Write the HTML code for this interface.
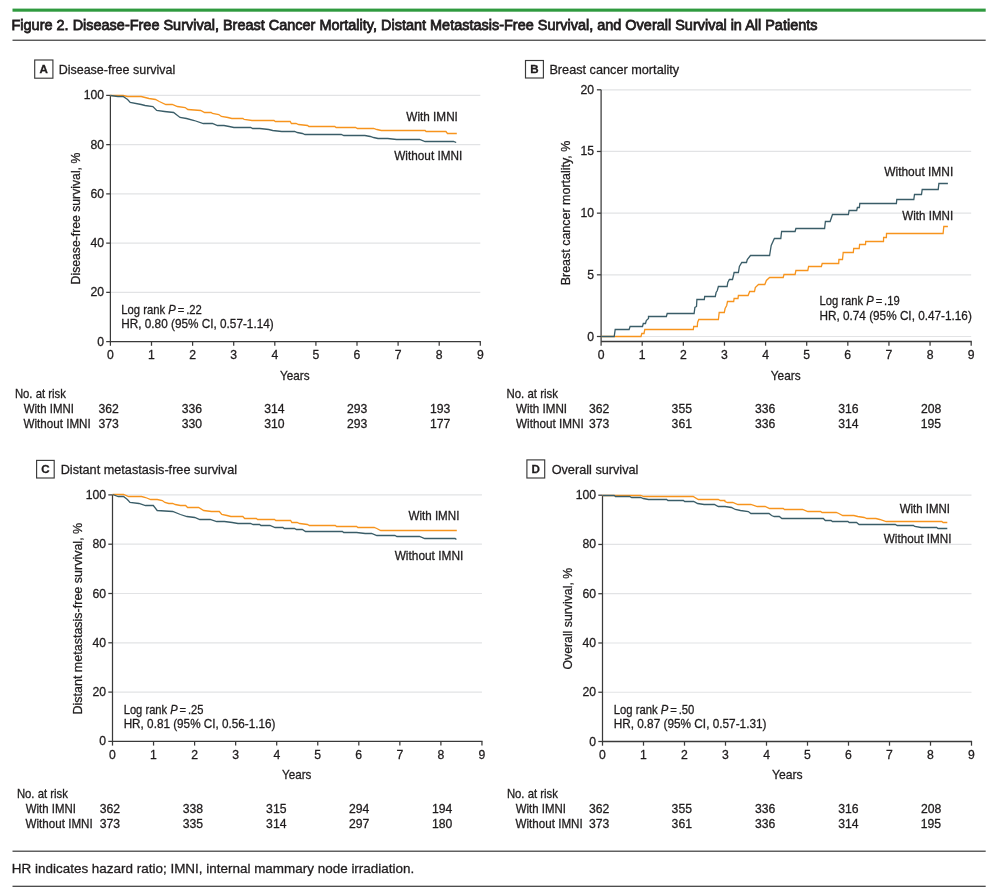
<!DOCTYPE html>
<html><head><meta charset="utf-8"><title>Figure 2</title>
<style>
html,body{margin:0;padding:0;background:#fff;}
body{width:1005px;height:892px;overflow:hidden;}
svg{display:block;font-family:"Liberation Sans",Arial,sans-serif;}
text{stroke:#1f1c1d;stroke-width:0.28px;}
text.ttl{stroke-width:0.8px;}
</style></head><body>
<svg width="1005" height="892" viewBox="0 0 1005 892">
<rect width="1005" height="892" fill="#fff"/>
<rect x="12.5" y="8.6" width="973.2" height="3.1" fill="#2f9a3f"/>
<rect x="12.5" y="39.6" width="973.2" height="1.3" fill="#4a4a4a"/>
<text x="11.54" y="29.70" font-size="15.2" textLength="805.96" lengthAdjust="spacingAndGlyphs" fill="#1f1c1d" class="ttl">Figure 2. Disease-Free Survival, Breast Cancer Mortality, Distant Metastasis-Free Survival, and Overall Survival in All Patients</text>
<line x1="110.40" y1="95.40" x2="480.30" y2="95.40" stroke="#e2e3e5" stroke-width="1.2"/>
<line x1="110.40" y1="144.64" x2="480.30" y2="144.64" stroke="#e2e3e5" stroke-width="1.2"/>
<line x1="110.40" y1="193.88" x2="480.30" y2="193.88" stroke="#e2e3e5" stroke-width="1.2"/>
<line x1="110.40" y1="243.12" x2="480.30" y2="243.12" stroke="#e2e3e5" stroke-width="1.2"/>
<line x1="110.40" y1="292.36" x2="480.30" y2="292.36" stroke="#e2e3e5" stroke-width="1.2"/>
<line x1="110.40" y1="95.40" x2="110.40" y2="345.80" stroke="#3a3a3a" stroke-width="1.25"/>
<line x1="106.20" y1="95.40" x2="110.40" y2="95.40" stroke="#3a3a3a" stroke-width="1.25"/>
<text x="83.71" y="99.40" font-size="12.2" fill="#1f1c1d">100</text>
<line x1="106.20" y1="144.64" x2="110.40" y2="144.64" stroke="#3a3a3a" stroke-width="1.25"/>
<text x="90.49" y="148.64" font-size="12.2" fill="#1f1c1d">80</text>
<line x1="106.20" y1="193.88" x2="110.40" y2="193.88" stroke="#3a3a3a" stroke-width="1.25"/>
<text x="90.49" y="197.88" font-size="12.2" fill="#1f1c1d">60</text>
<line x1="106.20" y1="243.12" x2="110.40" y2="243.12" stroke="#3a3a3a" stroke-width="1.25"/>
<text x="90.49" y="247.12" font-size="12.2" fill="#1f1c1d">40</text>
<line x1="106.20" y1="292.36" x2="110.40" y2="292.36" stroke="#3a3a3a" stroke-width="1.25"/>
<text x="90.49" y="296.36" font-size="12.2" fill="#1f1c1d">20</text>
<line x1="106.20" y1="341.60" x2="110.40" y2="341.60" stroke="#3a3a3a" stroke-width="1.25"/>
<text x="97.26" y="345.60" font-size="12.2" fill="#1f1c1d">0</text>
<line x1="110.40" y1="341.60" x2="480.90" y2="341.60" stroke="#3a3a3a" stroke-width="1.3"/>
<text x="106.98" y="358.80" font-size="12.2" fill="#1f1c1d">0</text>
<line x1="151.50" y1="341.60" x2="151.50" y2="345.80" stroke="#3a3a3a" stroke-width="1.25"/>
<text x="147.93" y="358.80" font-size="12.2" fill="#1f1c1d">1</text>
<line x1="192.60" y1="341.60" x2="192.60" y2="345.80" stroke="#3a3a3a" stroke-width="1.25"/>
<text x="189.21" y="358.80" font-size="12.2" fill="#1f1c1d">2</text>
<line x1="233.70" y1="341.60" x2="233.70" y2="345.80" stroke="#3a3a3a" stroke-width="1.25"/>
<text x="230.31" y="358.80" font-size="12.2" fill="#1f1c1d">3</text>
<line x1="274.80" y1="341.60" x2="274.80" y2="345.80" stroke="#3a3a3a" stroke-width="1.25"/>
<text x="271.48" y="358.80" font-size="12.2" fill="#1f1c1d">4</text>
<line x1="315.90" y1="341.60" x2="315.90" y2="345.80" stroke="#3a3a3a" stroke-width="1.25"/>
<text x="312.51" y="358.80" font-size="12.2" fill="#1f1c1d">5</text>
<line x1="357.00" y1="341.60" x2="357.00" y2="345.80" stroke="#3a3a3a" stroke-width="1.25"/>
<text x="353.55" y="358.80" font-size="12.2" fill="#1f1c1d">6</text>
<line x1="398.10" y1="341.60" x2="398.10" y2="345.80" stroke="#3a3a3a" stroke-width="1.25"/>
<text x="394.71" y="358.80" font-size="12.2" fill="#1f1c1d">7</text>
<line x1="439.20" y1="341.60" x2="439.20" y2="345.80" stroke="#3a3a3a" stroke-width="1.25"/>
<text x="435.78" y="358.80" font-size="12.2" fill="#1f1c1d">8</text>
<line x1="480.30" y1="341.60" x2="480.30" y2="345.80" stroke="#3a3a3a" stroke-width="1.25"/>
<text x="476.91" y="358.80" font-size="12.2" fill="#1f1c1d">9</text>
<text transform="translate(79.80 0) rotate(-90)" x="-284.38" y="0" font-size="13.1" textLength="131.62" lengthAdjust="spacingAndGlyphs" fill="#1f1c1d">Disease-free survival, %</text>
<text x="280.01" y="379.80" font-size="13.1" textLength="29.61" lengthAdjust="spacingAndGlyphs" fill="#1f1c1d">Years</text>
<polyline points="110.30,95.50 123.10,95.50 127.60,96.50 141.20,96.50 149.00,98.50 155.50,99.50 159.30,101.50 165.80,104.50 172.30,104.50 177.40,106.50 185.20,107.50 187.80,109.50 200.70,110.50 204.60,112.50 211.10,112.50 212.40,113.50 218.80,114.50 221.40,116.50 227.90,117.50 231.80,118.50 242.90,118.50 244.20,119.50 252.00,120.50 255.90,120.50 274.00,120.50 275.30,121.50 290.20,121.50 291.40,123.50 296.00,123.50 298.60,124.50 307.60,125.50 308.90,126.50 334.80,126.50 336.10,127.50 355.50,127.50 357.40,128.50 365.90,128.50 367.00,128.50 373.60,128.50 376.90,129.50 381.30,130.50 425.10,130.50 426.10,131.50 445.90,131.50 447.50,133.50 456.80,133.50" fill="none" stroke="#f7941d" stroke-width="1.3" stroke-linejoin="miter" stroke-linecap="butt"/>
<polyline points="110.30,95.50 117.90,96.50 123.10,96.50 127.60,99.50 130.20,102.50 141.20,104.50 145.10,105.50 152.90,106.50 156.70,110.50 164.50,111.50 173.60,112.50 180.00,117.50 186.50,118.50 194.30,120.50 203.30,123.50 212.40,123.50 217.50,125.50 224.00,125.50 229.20,126.50 233.90,127.50 250.70,127.50 252.60,128.50 259.80,128.50 268.80,129.50 272.70,130.50 281.70,131.50 283.00,131.50 294.70,131.50 297.30,132.50 302.40,133.50 305.00,134.50 341.30,134.50 343.80,135.50 354.20,135.50 356.80,135.50 364.90,135.50 370.30,136.50 373.60,137.50 378.00,138.50 387.80,138.50 396.60,139.50 419.60,139.50 425.10,141.50 453.50,141.50 456.20,142.50" fill="none" stroke="#3a5d68" stroke-width="1.3" stroke-linejoin="miter" stroke-linecap="butt"/>
<text x="121.30" y="313.80" font-size="12.2" textLength="80.55" lengthAdjust="spacingAndGlyphs" fill="#1f1c1d">Log rank <tspan font-style="italic">P</tspan> = .22</text>
<text x="121.26" y="327.60" font-size="12.2" textLength="152.46" lengthAdjust="spacingAndGlyphs" fill="#1f1c1d">HR, 0.80 (95% CI, 0.57-1.14)</text>
<text x="406.34" y="120.90" font-size="12.2" textLength="51.56" lengthAdjust="spacingAndGlyphs" fill="#1f1c1d">With IMNI</text>
<text x="394.24" y="159.60" font-size="12.2" textLength="68.06" lengthAdjust="spacingAndGlyphs" fill="#1f1c1d">Without IMNI</text>
<text x="14.89" y="397.70" font-size="12.2" textLength="51.02" lengthAdjust="spacingAndGlyphs" fill="#1f1c1d">No. at risk</text>
<text x="23.74" y="412.60" font-size="12.2" textLength="50.13" lengthAdjust="spacingAndGlyphs" fill="#1f1c1d">With IMNI</text>
<text x="23.54" y="427.60" font-size="12.2" textLength="67.15" lengthAdjust="spacingAndGlyphs" fill="#1f1c1d">Without IMNI</text>
<text x="98.41" y="412.60" font-size="12.2" fill="#1f1c1d">362</text>
<text x="98.41" y="427.60" font-size="12.2" fill="#1f1c1d">373</text>
<text x="181.71" y="412.60" font-size="12.2" fill="#1f1c1d">336</text>
<text x="181.71" y="427.60" font-size="12.2" fill="#1f1c1d">330</text>
<text x="264.21" y="412.60" font-size="12.2" fill="#1f1c1d">314</text>
<text x="264.21" y="427.60" font-size="12.2" fill="#1f1c1d">310</text>
<text x="346.99" y="412.60" font-size="12.2" fill="#1f1c1d">293</text>
<text x="346.99" y="427.60" font-size="12.2" fill="#1f1c1d">293</text>
<text x="429.98" y="412.60" font-size="12.2" fill="#1f1c1d">193</text>
<text x="429.98" y="427.60" font-size="12.2" fill="#1f1c1d">177</text>
<rect x="34.70" y="60.00" width="18.20" height="18.20" fill="none" stroke="#3a3a3a" stroke-width="1.15"/>
<text x="39.62" y="73.00" font-size="11.6" fill="#1f1c1d" font-weight="bold">A</text>
<text x="58.70" y="73.80" font-size="13.3" textLength="116.63" lengthAdjust="spacingAndGlyphs" fill="#1f1c1d">Disease-free survival</text>
<line x1="112.50" y1="494.90" x2="481.95" y2="494.90" stroke="#e2e3e5" stroke-width="1.2"/>
<line x1="112.50" y1="544.20" x2="481.95" y2="544.20" stroke="#e2e3e5" stroke-width="1.2"/>
<line x1="112.50" y1="593.50" x2="481.95" y2="593.50" stroke="#e2e3e5" stroke-width="1.2"/>
<line x1="112.50" y1="642.80" x2="481.95" y2="642.80" stroke="#e2e3e5" stroke-width="1.2"/>
<line x1="112.50" y1="692.10" x2="481.95" y2="692.10" stroke="#e2e3e5" stroke-width="1.2"/>
<line x1="112.50" y1="494.90" x2="112.50" y2="745.60" stroke="#3a3a3a" stroke-width="1.25"/>
<line x1="108.30" y1="494.90" x2="112.50" y2="494.90" stroke="#3a3a3a" stroke-width="1.25"/>
<text x="85.81" y="498.90" font-size="12.2" fill="#1f1c1d">100</text>
<line x1="108.30" y1="544.20" x2="112.50" y2="544.20" stroke="#3a3a3a" stroke-width="1.25"/>
<text x="92.59" y="548.20" font-size="12.2" fill="#1f1c1d">80</text>
<line x1="108.30" y1="593.50" x2="112.50" y2="593.50" stroke="#3a3a3a" stroke-width="1.25"/>
<text x="92.59" y="597.50" font-size="12.2" fill="#1f1c1d">60</text>
<line x1="108.30" y1="642.80" x2="112.50" y2="642.80" stroke="#3a3a3a" stroke-width="1.25"/>
<text x="92.59" y="646.80" font-size="12.2" fill="#1f1c1d">40</text>
<line x1="108.30" y1="692.10" x2="112.50" y2="692.10" stroke="#3a3a3a" stroke-width="1.25"/>
<text x="92.59" y="696.10" font-size="12.2" fill="#1f1c1d">20</text>
<line x1="108.30" y1="741.40" x2="112.50" y2="741.40" stroke="#3a3a3a" stroke-width="1.25"/>
<text x="99.36" y="745.40" font-size="12.2" fill="#1f1c1d">0</text>
<line x1="112.50" y1="741.40" x2="482.55" y2="741.40" stroke="#3a3a3a" stroke-width="1.3"/>
<text x="109.08" y="758.60" font-size="12.2" fill="#1f1c1d">0</text>
<line x1="153.55" y1="741.40" x2="153.55" y2="745.60" stroke="#3a3a3a" stroke-width="1.25"/>
<text x="149.98" y="758.60" font-size="12.2" fill="#1f1c1d">1</text>
<line x1="194.60" y1="741.40" x2="194.60" y2="745.60" stroke="#3a3a3a" stroke-width="1.25"/>
<text x="191.21" y="758.60" font-size="12.2" fill="#1f1c1d">2</text>
<line x1="235.65" y1="741.40" x2="235.65" y2="745.60" stroke="#3a3a3a" stroke-width="1.25"/>
<text x="232.26" y="758.60" font-size="12.2" fill="#1f1c1d">3</text>
<line x1="276.70" y1="741.40" x2="276.70" y2="745.60" stroke="#3a3a3a" stroke-width="1.25"/>
<text x="273.38" y="758.60" font-size="12.2" fill="#1f1c1d">4</text>
<line x1="317.75" y1="741.40" x2="317.75" y2="745.60" stroke="#3a3a3a" stroke-width="1.25"/>
<text x="314.36" y="758.60" font-size="12.2" fill="#1f1c1d">5</text>
<line x1="358.80" y1="741.40" x2="358.80" y2="745.60" stroke="#3a3a3a" stroke-width="1.25"/>
<text x="355.35" y="758.60" font-size="12.2" fill="#1f1c1d">6</text>
<line x1="399.85" y1="741.40" x2="399.85" y2="745.60" stroke="#3a3a3a" stroke-width="1.25"/>
<text x="396.46" y="758.60" font-size="12.2" fill="#1f1c1d">7</text>
<line x1="440.90" y1="741.40" x2="440.90" y2="745.60" stroke="#3a3a3a" stroke-width="1.25"/>
<text x="437.48" y="758.60" font-size="12.2" fill="#1f1c1d">8</text>
<line x1="481.95" y1="741.40" x2="481.95" y2="745.60" stroke="#3a3a3a" stroke-width="1.25"/>
<text x="478.56" y="758.60" font-size="12.2" fill="#1f1c1d">9</text>
<text transform="translate(81.80 0) rotate(-90)" x="-714.50" y="0" font-size="13.1" textLength="191.71" lengthAdjust="spacingAndGlyphs" fill="#1f1c1d">Distant metastasis-free survival, %</text>
<text x="282.01" y="779.00" font-size="13.1" textLength="29.41" lengthAdjust="spacingAndGlyphs" fill="#1f1c1d">Years</text>
<polyline points="112.50,494.50 123.50,494.50 128.70,496.50 141.60,496.50 145.50,497.50 150.70,499.50 157.20,499.50 162.30,500.50 164.90,502.50 168.80,503.50 172.70,503.50 175.30,504.50 180.40,505.50 185.60,505.50 187.60,507.50 198.60,507.50 203.70,510.50 211.50,511.50 219.30,511.50 221.80,514.50 227.00,515.50 230.90,516.50 242.80,516.50 244.70,518.50 256.30,518.50 257.60,519.50 274.50,519.50 275.80,520.50 290.60,520.50 291.90,522.50 297.10,522.50 299.70,523.50 307.40,524.50 309.40,525.50 335.30,525.50 336.60,526.50 356.60,526.50 357.90,527.50 366.50,527.50 374.20,527.50 376.80,528.50 380.70,530.50 424.70,530.50 426.00,530.50 456.80,530.50" fill="none" stroke="#f7941d" stroke-width="1.3" stroke-linejoin="miter" stroke-linecap="butt"/>
<polyline points="112.50,494.50 118.30,496.50 123.50,496.50 127.40,499.50 130.00,502.50 139.00,503.50 145.50,505.50 153.30,505.50 157.20,510.50 172.70,511.50 180.40,514.50 186.90,516.50 194.70,517.50 199.80,519.50 210.20,519.50 216.70,521.50 224.40,521.50 232.20,522.50 238.00,523.50 250.50,523.50 253.10,524.50 259.60,524.50 260.90,525.50 269.90,525.50 275.10,527.50 282.90,527.50 284.20,528.50 294.50,528.50 296.40,529.50 302.30,529.50 305.50,531.50 342.40,531.50 343.70,532.50 355.30,532.50 356.60,532.50 365.20,533.50 371.60,533.50 376.80,535.50 394.90,535.50 396.90,536.50 419.50,536.50 424.70,538.50 455.10,538.50 456.40,539.50" fill="none" stroke="#3a5d68" stroke-width="1.3" stroke-linejoin="miter" stroke-linecap="butt"/>
<text x="123.71" y="713.90" font-size="12.2" textLength="79.72" lengthAdjust="spacingAndGlyphs" fill="#1f1c1d">Log rank <tspan font-style="italic">P</tspan> = .25</text>
<text x="123.66" y="728.00" font-size="12.2" textLength="151.85" lengthAdjust="spacingAndGlyphs" fill="#1f1c1d">HR, 0.81 (95% CI, 0.56-1.16)</text>
<text x="408.44" y="520.00" font-size="12.2" textLength="50.95" lengthAdjust="spacingAndGlyphs" fill="#1f1c1d">With IMNI</text>
<text x="394.64" y="559.50" font-size="12.2" textLength="68.67" lengthAdjust="spacingAndGlyphs" fill="#1f1c1d">Without IMNI</text>
<text x="16.89" y="797.70" font-size="12.2" textLength="51.02" lengthAdjust="spacingAndGlyphs" fill="#1f1c1d">No. at risk</text>
<text x="25.74" y="812.60" font-size="12.2" textLength="50.13" lengthAdjust="spacingAndGlyphs" fill="#1f1c1d">With IMNI</text>
<text x="25.54" y="827.60" font-size="12.2" textLength="67.15" lengthAdjust="spacingAndGlyphs" fill="#1f1c1d">Without IMNI</text>
<text x="99.81" y="812.60" font-size="12.2" fill="#1f1c1d">362</text>
<text x="99.81" y="827.60" font-size="12.2" fill="#1f1c1d">373</text>
<text x="182.81" y="812.60" font-size="12.2" fill="#1f1c1d">338</text>
<text x="182.81" y="827.60" font-size="12.2" fill="#1f1c1d">335</text>
<text x="266.11" y="812.60" font-size="12.2" fill="#1f1c1d">315</text>
<text x="266.11" y="827.60" font-size="12.2" fill="#1f1c1d">314</text>
<text x="348.89" y="812.60" font-size="12.2" fill="#1f1c1d">294</text>
<text x="348.89" y="827.60" font-size="12.2" fill="#1f1c1d">297</text>
<text x="431.88" y="812.60" font-size="12.2" fill="#1f1c1d">194</text>
<text x="431.88" y="827.60" font-size="12.2" fill="#1f1c1d">180</text>
<rect x="36.60" y="460.40" width="17.60" height="17.60" fill="none" stroke="#3a3a3a" stroke-width="1.15"/>
<text x="41.14" y="473.20" font-size="11.6" fill="#1f1c1d" font-weight="bold">C</text>
<text x="60.68" y="473.60" font-size="13.3" textLength="176.38" lengthAdjust="spacingAndGlyphs" fill="#1f1c1d">Distant metastasis-free survival</text>
<line x1="602.50" y1="495.20" x2="971.50" y2="495.20" stroke="#e2e3e5" stroke-width="1.2"/>
<line x1="602.50" y1="544.46" x2="971.50" y2="544.46" stroke="#e2e3e5" stroke-width="1.2"/>
<line x1="602.50" y1="593.72" x2="971.50" y2="593.72" stroke="#e2e3e5" stroke-width="1.2"/>
<line x1="602.50" y1="642.98" x2="971.50" y2="642.98" stroke="#e2e3e5" stroke-width="1.2"/>
<line x1="602.50" y1="692.24" x2="971.50" y2="692.24" stroke="#e2e3e5" stroke-width="1.2"/>
<line x1="602.50" y1="495.20" x2="602.50" y2="745.70" stroke="#3a3a3a" stroke-width="1.25"/>
<line x1="598.30" y1="495.20" x2="602.50" y2="495.20" stroke="#3a3a3a" stroke-width="1.25"/>
<text x="575.81" y="499.20" font-size="12.2" fill="#1f1c1d">100</text>
<line x1="598.30" y1="544.46" x2="602.50" y2="544.46" stroke="#3a3a3a" stroke-width="1.25"/>
<text x="582.59" y="548.46" font-size="12.2" fill="#1f1c1d">80</text>
<line x1="598.30" y1="593.72" x2="602.50" y2="593.72" stroke="#3a3a3a" stroke-width="1.25"/>
<text x="582.59" y="597.72" font-size="12.2" fill="#1f1c1d">60</text>
<line x1="598.30" y1="642.98" x2="602.50" y2="642.98" stroke="#3a3a3a" stroke-width="1.25"/>
<text x="582.59" y="646.98" font-size="12.2" fill="#1f1c1d">40</text>
<line x1="598.30" y1="692.24" x2="602.50" y2="692.24" stroke="#3a3a3a" stroke-width="1.25"/>
<text x="582.59" y="696.24" font-size="12.2" fill="#1f1c1d">20</text>
<line x1="598.30" y1="741.50" x2="602.50" y2="741.50" stroke="#3a3a3a" stroke-width="1.25"/>
<text x="589.36" y="745.50" font-size="12.2" fill="#1f1c1d">0</text>
<line x1="602.50" y1="741.50" x2="972.10" y2="741.50" stroke="#3a3a3a" stroke-width="1.3"/>
<text x="599.08" y="758.70" font-size="12.2" fill="#1f1c1d">0</text>
<line x1="643.50" y1="741.50" x2="643.50" y2="745.70" stroke="#3a3a3a" stroke-width="1.25"/>
<text x="639.93" y="758.70" font-size="12.2" fill="#1f1c1d">1</text>
<line x1="684.50" y1="741.50" x2="684.50" y2="745.70" stroke="#3a3a3a" stroke-width="1.25"/>
<text x="681.11" y="758.70" font-size="12.2" fill="#1f1c1d">2</text>
<line x1="725.50" y1="741.50" x2="725.50" y2="745.70" stroke="#3a3a3a" stroke-width="1.25"/>
<text x="722.11" y="758.70" font-size="12.2" fill="#1f1c1d">3</text>
<line x1="766.50" y1="741.50" x2="766.50" y2="745.70" stroke="#3a3a3a" stroke-width="1.25"/>
<text x="763.18" y="758.70" font-size="12.2" fill="#1f1c1d">4</text>
<line x1="807.50" y1="741.50" x2="807.50" y2="745.70" stroke="#3a3a3a" stroke-width="1.25"/>
<text x="804.11" y="758.70" font-size="12.2" fill="#1f1c1d">5</text>
<line x1="848.50" y1="741.50" x2="848.50" y2="745.70" stroke="#3a3a3a" stroke-width="1.25"/>
<text x="845.05" y="758.70" font-size="12.2" fill="#1f1c1d">6</text>
<line x1="889.50" y1="741.50" x2="889.50" y2="745.70" stroke="#3a3a3a" stroke-width="1.25"/>
<text x="886.11" y="758.70" font-size="12.2" fill="#1f1c1d">7</text>
<line x1="930.50" y1="741.50" x2="930.50" y2="745.70" stroke="#3a3a3a" stroke-width="1.25"/>
<text x="927.08" y="758.70" font-size="12.2" fill="#1f1c1d">8</text>
<line x1="971.50" y1="741.50" x2="971.50" y2="745.70" stroke="#3a3a3a" stroke-width="1.25"/>
<text x="968.11" y="758.70" font-size="12.2" fill="#1f1c1d">9</text>
<text transform="translate(571.80 0) rotate(-90)" x="-669.55" y="0" font-size="13.1" textLength="101.68" lengthAdjust="spacingAndGlyphs" fill="#1f1c1d">Overall survival, %</text>
<text x="772.00" y="779.00" font-size="13.1" textLength="30.64" lengthAdjust="spacingAndGlyphs" fill="#1f1c1d">Years</text>
<polyline points="602.50,495.50 640.70,495.50 643.90,496.50 693.10,496.50 698.30,499.50 718.30,499.50 720.30,500.50 724.80,500.50 725.00,501.50 727.60,502.50 732.80,502.50 737.90,504.50 748.30,504.50 750.90,504.50 757.30,506.50 765.10,506.50 769.60,508.50 783.20,508.50 784.50,509.50 802.60,509.50 807.80,511.50 820.70,511.50 822.00,512.50 836.30,512.50 838.80,513.50 842.70,515.50 853.10,515.50 853.90,515.50 857.80,516.50 864.20,517.50 866.80,518.50 875.90,518.50 879.80,519.50 886.20,521.50 941.80,521.50 943.10,522.50 947.30,522.50" fill="none" stroke="#f7941d" stroke-width="1.3" stroke-linejoin="miter" stroke-linecap="butt"/>
<polyline points="602.50,495.50 614.20,495.50 615.50,496.50 629.70,496.50 631.60,497.50 640.70,497.50 643.30,498.50 648.50,499.50 666.60,499.50 667.90,500.50 683.40,500.50 684.70,501.50 693.70,501.50 697.60,503.50 704.10,504.50 714.40,504.50 718.30,506.50 725.00,506.50 731.50,507.50 735.30,509.50 740.50,510.50 748.30,511.50 750.90,513.50 769.00,513.50 771.60,515.50 774.20,516.50 779.30,516.50 781.90,518.50 794.90,518.50 796.80,518.50 823.30,518.50 825.30,520.50 831.10,520.50 832.40,521.50 847.90,521.50 849.20,522.50 856.50,522.50 859.10,524.50 895.30,524.50 897.20,525.50 913.40,525.50 914.70,526.50 921.20,527.50 936.70,527.50 938.00,528.50 947.30,528.50" fill="none" stroke="#3a5d68" stroke-width="1.3" stroke-linejoin="miter" stroke-linecap="butt"/>
<text x="613.70" y="713.90" font-size="12.2" textLength="80.68" lengthAdjust="spacingAndGlyphs" fill="#1f1c1d">Log rank <tspan font-style="italic">P</tspan> = .50</text>
<text x="613.66" y="728.00" font-size="12.2" textLength="152.86" lengthAdjust="spacingAndGlyphs" fill="#1f1c1d">HR, 0.87 (95% CI, 0.57-1.31)</text>
<text x="899.74" y="512.50" font-size="12.2" textLength="50.33" lengthAdjust="spacingAndGlyphs" fill="#1f1c1d">With IMNI</text>
<text x="883.84" y="542.60" font-size="12.2" textLength="67.56" lengthAdjust="spacingAndGlyphs" fill="#1f1c1d">Without IMNI</text>
<text x="506.89" y="797.70" font-size="12.2" textLength="51.02" lengthAdjust="spacingAndGlyphs" fill="#1f1c1d">No. at risk</text>
<text x="515.74" y="812.60" font-size="12.2" textLength="50.13" lengthAdjust="spacingAndGlyphs" fill="#1f1c1d">With IMNI</text>
<text x="515.54" y="827.60" font-size="12.2" textLength="67.15" lengthAdjust="spacingAndGlyphs" fill="#1f1c1d">Without IMNI</text>
<text x="589.01" y="812.60" font-size="12.2" fill="#1f1c1d">362</text>
<text x="589.01" y="827.60" font-size="12.2" fill="#1f1c1d">373</text>
<text x="671.61" y="812.60" font-size="12.2" fill="#1f1c1d">355</text>
<text x="671.61" y="827.60" font-size="12.2" fill="#1f1c1d">361</text>
<text x="754.91" y="812.60" font-size="12.2" fill="#1f1c1d">336</text>
<text x="754.91" y="827.60" font-size="12.2" fill="#1f1c1d">336</text>
<text x="838.21" y="812.60" font-size="12.2" fill="#1f1c1d">316</text>
<text x="838.21" y="827.60" font-size="12.2" fill="#1f1c1d">314</text>
<text x="920.99" y="812.60" font-size="12.2" fill="#1f1c1d">208</text>
<text x="920.69" y="827.60" font-size="12.2" fill="#1f1c1d">195</text>
<rect x="526.90" y="459.90" width="17.80" height="18.10" fill="none" stroke="#3a3a3a" stroke-width="1.15"/>
<text x="531.48" y="473.20" font-size="11.6" fill="#1f1c1d" font-weight="bold">D</text>
<text x="551.63" y="473.60" font-size="13.3" textLength="86.80" lengthAdjust="spacingAndGlyphs" fill="#1f1c1d">Overall survival</text>
<line x1="601.10" y1="89.80" x2="971.18" y2="89.80" stroke="#e2e3e5" stroke-width="1.2"/>
<line x1="601.10" y1="151.47" x2="971.18" y2="151.47" stroke="#e2e3e5" stroke-width="1.2"/>
<line x1="601.10" y1="213.15" x2="971.18" y2="213.15" stroke="#e2e3e5" stroke-width="1.2"/>
<line x1="601.10" y1="274.82" x2="971.18" y2="274.82" stroke="#e2e3e5" stroke-width="1.2"/>
<line x1="601.10" y1="336.50" x2="971.18" y2="336.50" stroke="#e2e3e5" stroke-width="1.2"/>
<line x1="601.10" y1="89.80" x2="601.10" y2="345.70" stroke="#3a3a3a" stroke-width="1.25"/>
<line x1="596.90" y1="89.80" x2="601.10" y2="89.80" stroke="#3a3a3a" stroke-width="1.25"/>
<text x="580.38" y="93.80" font-size="12.2" fill="#1f1c1d">20</text>
<line x1="596.90" y1="151.47" x2="601.10" y2="151.47" stroke="#3a3a3a" stroke-width="1.25"/>
<text x="580.45" y="155.47" font-size="12.2" fill="#1f1c1d">15</text>
<line x1="596.90" y1="213.15" x2="601.10" y2="213.15" stroke="#3a3a3a" stroke-width="1.25"/>
<text x="580.38" y="217.15" font-size="12.2" fill="#1f1c1d">10</text>
<line x1="596.90" y1="274.82" x2="601.10" y2="274.82" stroke="#3a3a3a" stroke-width="1.25"/>
<text x="587.22" y="278.82" font-size="12.2" fill="#1f1c1d">5</text>
<line x1="596.90" y1="336.50" x2="601.10" y2="336.50" stroke="#3a3a3a" stroke-width="1.25"/>
<text x="587.16" y="340.50" font-size="12.2" fill="#1f1c1d">0</text>
<line x1="601.10" y1="341.50" x2="971.78" y2="341.50" stroke="#3a3a3a" stroke-width="1.3"/>
<text x="597.68" y="358.70" font-size="12.2" fill="#1f1c1d">0</text>
<line x1="642.22" y1="341.50" x2="642.22" y2="345.70" stroke="#3a3a3a" stroke-width="1.25"/>
<text x="638.65" y="358.70" font-size="12.2" fill="#1f1c1d">1</text>
<line x1="683.34" y1="341.50" x2="683.34" y2="345.70" stroke="#3a3a3a" stroke-width="1.25"/>
<text x="679.95" y="358.70" font-size="12.2" fill="#1f1c1d">2</text>
<line x1="724.46" y1="341.50" x2="724.46" y2="345.70" stroke="#3a3a3a" stroke-width="1.25"/>
<text x="721.07" y="358.70" font-size="12.2" fill="#1f1c1d">3</text>
<line x1="765.58" y1="341.50" x2="765.58" y2="345.70" stroke="#3a3a3a" stroke-width="1.25"/>
<text x="762.26" y="358.70" font-size="12.2" fill="#1f1c1d">4</text>
<line x1="806.70" y1="341.50" x2="806.70" y2="345.70" stroke="#3a3a3a" stroke-width="1.25"/>
<text x="803.31" y="358.70" font-size="12.2" fill="#1f1c1d">5</text>
<line x1="847.82" y1="341.50" x2="847.82" y2="345.70" stroke="#3a3a3a" stroke-width="1.25"/>
<text x="844.37" y="358.70" font-size="12.2" fill="#1f1c1d">6</text>
<line x1="888.94" y1="341.50" x2="888.94" y2="345.70" stroke="#3a3a3a" stroke-width="1.25"/>
<text x="885.55" y="358.70" font-size="12.2" fill="#1f1c1d">7</text>
<line x1="930.06" y1="341.50" x2="930.06" y2="345.70" stroke="#3a3a3a" stroke-width="1.25"/>
<text x="926.64" y="358.70" font-size="12.2" fill="#1f1c1d">8</text>
<line x1="971.18" y1="341.50" x2="971.18" y2="345.70" stroke="#3a3a3a" stroke-width="1.25"/>
<text x="967.79" y="358.70" font-size="12.2" fill="#1f1c1d">9</text>
<text transform="translate(569.80 0) rotate(-90)" x="-285.30" y="0" font-size="13.1" textLength="144.55" lengthAdjust="spacingAndGlyphs" fill="#1f1c1d">Breast cancer mortality, %</text>
<text x="770.80" y="379.80" font-size="13.1" textLength="29.82" lengthAdjust="spacingAndGlyphs" fill="#1f1c1d">Years</text>
<polyline points="601.10,336.50 641.00,336.50 641.80,333.50 644.00,333.50 644.80,329.50 693.30,329.50 693.70,326.50 697.30,326.50 697.60,322.50 698.80,319.50 718.40,319.50 719.20,312.50 724.30,312.50 725.10,308.50 726.70,305.50 727.50,301.50 733.70,301.50 734.10,298.50 738.00,298.50 738.40,295.50 748.10,295.50 749.70,291.50 754.50,291.50 755.30,287.50 758.50,284.50 764.80,284.50 766.40,280.50 769.60,277.50 783.20,277.50 784.00,274.50 795.10,274.50 795.90,270.50 807.80,270.50 808.60,266.50 821.40,266.50 822.20,263.50 838.70,263.50 838.90,259.50 842.50,259.50 842.90,255.50 843.20,252.50 853.30,252.50 853.70,248.50 859.20,248.50 859.60,244.50 865.50,244.50 865.70,241.50 883.50,241.50 883.60,237.50 886.40,237.50 886.50,233.50 943.10,233.50 943.80,226.50 947.90,226.50" fill="none" stroke="#f7941d" stroke-width="1.3" stroke-linejoin="miter" stroke-linecap="butt"/>
<polyline points="601.10,336.50 614.20,336.50 615.20,329.50 629.10,329.50 630.10,326.50 642.50,326.50 643.30,323.50 645.50,323.50 646.30,320.50 648.50,318.50 648.50,316.50 666.40,316.50 667.20,313.50 694.10,313.50 694.90,307.50 696.50,306.50 696.90,299.50 704.30,299.50 704.70,296.50 715.30,296.50 716.10,292.50 717.30,290.50 718.40,286.50 727.10,286.50 727.80,282.50 729.40,279.50 732.50,279.50 733.70,274.50 734.10,272.50 738.40,272.50 739.40,266.50 741.80,262.50 746.50,262.50 747.30,259.50 750.50,255.50 769.60,255.50 771.20,245.50 774.40,238.50 780.80,238.50 781.60,231.50 795.10,231.50 795.90,228.50 824.60,228.50 825.40,221.50 830.10,221.50 832.50,214.50 848.40,214.50 849.10,210.50 856.70,210.50 857.40,207.50 859.40,207.50 859.80,203.50 896.40,203.50 896.80,199.50 913.80,199.50 914.50,194.50 921.50,194.50 922.20,189.50 938.20,189.50 938.90,183.50 947.90,183.50" fill="none" stroke="#3a5d68" stroke-width="1.3" stroke-linejoin="miter" stroke-linecap="butt"/>
<text x="819.50" y="304.80" font-size="12.2" textLength="80.19" lengthAdjust="spacingAndGlyphs" fill="#1f1c1d">Log rank <tspan font-style="italic">P</tspan> = .19</text>
<text x="819.46" y="320.00" font-size="12.2" textLength="152.36" lengthAdjust="spacingAndGlyphs" fill="#1f1c1d">HR, 0.74 (95% CI, 0.47-1.16)</text>
<text x="884.24" y="176.00" font-size="12.2" textLength="68.98" lengthAdjust="spacingAndGlyphs" fill="#1f1c1d">Without IMNI</text>
<text x="902.34" y="219.90" font-size="12.2" textLength="50.84" lengthAdjust="spacingAndGlyphs" fill="#1f1c1d">With IMNI</text>
<text x="506.48" y="397.70" font-size="12.2" textLength="51.53" lengthAdjust="spacingAndGlyphs" fill="#1f1c1d">No. at risk</text>
<text x="516.04" y="412.60" font-size="12.2" textLength="51.05" lengthAdjust="spacingAndGlyphs" fill="#1f1c1d">With IMNI</text>
<text x="516.04" y="427.60" font-size="12.2" textLength="67.66" lengthAdjust="spacingAndGlyphs" fill="#1f1c1d">Without IMNI</text>
<text x="589.01" y="412.60" font-size="12.2" fill="#1f1c1d">362</text>
<text x="589.01" y="427.60" font-size="12.2" fill="#1f1c1d">373</text>
<text x="671.61" y="412.60" font-size="12.2" fill="#1f1c1d">355</text>
<text x="671.61" y="427.60" font-size="12.2" fill="#1f1c1d">361</text>
<text x="754.91" y="412.60" font-size="12.2" fill="#1f1c1d">336</text>
<text x="754.91" y="427.60" font-size="12.2" fill="#1f1c1d">336</text>
<text x="838.31" y="412.60" font-size="12.2" fill="#1f1c1d">316</text>
<text x="838.31" y="427.60" font-size="12.2" fill="#1f1c1d">314</text>
<text x="920.99" y="412.60" font-size="12.2" fill="#1f1c1d">208</text>
<text x="920.69" y="427.60" font-size="12.2" fill="#1f1c1d">195</text>
<rect x="525.50" y="60.50" width="17.90" height="17.50" fill="none" stroke="#3a3a3a" stroke-width="1.15"/>
<text x="530.16" y="73.20" font-size="11.6" fill="#1f1c1d" font-weight="bold">B</text>
<text x="549.38" y="73.90" font-size="13.3" textLength="129.83" lengthAdjust="spacingAndGlyphs" fill="#1f1c1d">Breast cancer mortality</text>
<rect x="12.5" y="850.6" width="973.2" height="1.2" fill="#3a3a3a"/>
<rect x="12.5" y="885.7" width="973.2" height="1.2" fill="#3a3a3a"/>
<text x="11.82" y="872.50" font-size="13.6" textLength="402.41" lengthAdjust="spacingAndGlyphs" fill="#1f1c1d">HR indicates hazard ratio; IMNI, internal mammary node irradiation.</text>
</svg>
</body></html>
